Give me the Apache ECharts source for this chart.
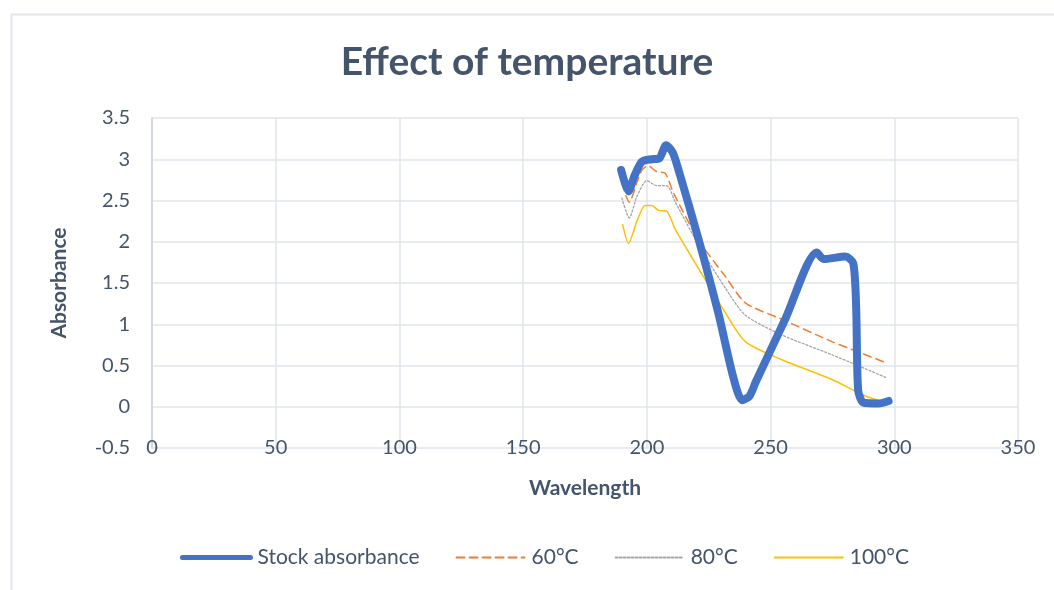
<!DOCTYPE html>
<html>
<head>
<meta charset="utf-8">
<script src="https://cdn.jsdelivr.net/npm/echarts@6/dist/echarts.min.js"></script>
<style>
html,body{margin:0;padding:0;background:#fff;}
#c{width:1054px;height:590px;}
</style>
</head>
<body>
<div id="c"></div>
<script>
var seriesNames = ['Stock absorbance', '60°C', '80°C', '100°C'];
var xTicks = [0, 50, 100, 150, 200, 250, 300, 350];
var yTicks = [-0.5, 0, 0.5, 1, 1.5, 2, 2.5, 3, 3.5];

var stock = [[189.6,2.87],[192.6,2.61],[195,2.8],[198,2.97],[202,3.0],[205,3.01],[207.8,3.17],[210.5,3.08],[213,2.85],[220.9,2.03],[229,1.12],[235,0.35],[238.5,0.08],[241.5,0.13],[244,0.3],[255.9,1.06],[268.7,1.87],[271.4,1.79],[280.2,1.82],[283.4,1.74],[284.6,1.2],[285.4,0.2],[287.5,0.05],[293.7,0.04],[297.7,0.07]];
var t60 = [[189.9,2.71],[192.9,2.48],[196,2.72],[198,2.87],[200.4,2.92],[204,2.85],[207.4,2.83],[210.8,2.59],[220.9,2.02],[231.7,1.58],[239.8,1.26],[254.6,1.06],[274.8,0.79],[297,0.53]];
var t80 = [[189.9,2.53],[192.9,2.29],[196,2.55],[200,2.74],[204,2.68],[208,2.68],[211.5,2.48],[220.9,1.96],[231.7,1.44],[239.8,1.11],[254.6,0.87],[274.8,0.63],[297,0.35]];
var t100 = [[190.2,2.21],[192.6,1.98],[196,2.25],[199.3,2.44],[202,2.44],[204.7,2.38],[208,2.37],[211.5,2.15],[223.6,1.54],[231.7,1.14],[239.8,0.79],[254.6,0.57],[274.8,0.33],[288.3,0.13],[297,0.05]];

var FONT = 'Lato';
var TXT = '#44546A';
var chart = echarts.init(document.getElementById('c'), null, {renderer: 'canvas'});
function mk(name, data, color, width, type) {
  return {
    name: name, type: 'line', data: data, showSymbol: false, symbol: 'none',
    smooth: 0.25,
    lineStyle: {color: color, width: width, type: type, cap: 'round', join: 'round'},
    itemStyle: {color: color},
    z: name === seriesNames[0] ? 5 : 3
  };
}
chart.setOption({
  backgroundColor: '#fff',
  animation: false,
  graphic: [{type: 'rect', left: 9, top: 12, shape: {width: 1100, height: 700}, style: {fill: 'none', stroke: '#e2e6eb', lineWidth: 2}, silent: true}],
  title: {text: 'Effect of temperature', left: 'center', top: 38, textStyle: {fontFamily: FONT, fontSize: 39, fontWeight: 'bold', color: TXT}},
  grid: {left: 152, right: 36, top: 118, bottom: 142},
  legend: {
    left: 180, top: 547, padding: 0, itemWidth: 68, itemHeight: 14, itemGap: 36,
    textStyle: {fontFamily: FONT, fontSize: 21, color: TXT, padding: [0,0,0,2]},
    itemStyle: {color: 'rgba(0,0,0,0)', borderWidth: 0, opacity: 0},
    data: [
      {name: seriesNames[0], lineStyle: {width: 5}},
      {name: seriesNames[1]},
      {name: seriesNames[2]},
      {name: seriesNames[3]}
    ]
  },
  xAxis: {
    type: 'value', min: xTicks[0], max: xTicks[xTicks.length-1], interval: 50,
    name: 'Wavelength', nameLocation: 'middle', nameGap: 30,
    nameTextStyle: {fontFamily: FONT, fontSize: 21, fontWeight: 'bold', color: TXT},
    axisLine: {show: false}, axisTick: {show: false},
    axisLabel: {fontFamily: FONT, fontSize: 20, color: TXT, margin: -10},
    splitLine: {show: true, lineStyle: {color: '#e1e5ea', width: 1.5}}
  },
  yAxis: {
    type: 'value', min: yTicks[0], max: yTicks[yTicks.length-1], interval: 0.5,
    name: 'Absorbance', nameLocation: 'middle', nameGap: 82,
    nameTextStyle: {fontFamily: FONT, fontSize: 21, fontWeight: 'bold', color: TXT},
    axisLine: {show: true, onZero: false, lineStyle: {color: '#cdd3db', width: 1.5}}, axisTick: {show: false},
    axisLabel: {fontFamily: FONT, fontSize: 20, color: TXT, margin: 22},
    splitLine: {show: true, lineStyle: {color: '#e1e5ea', width: 1.5}}
  },
  series: [
    mk(seriesNames[0], stock, '#4472C4', 8, 'solid'),
    mk(seriesNames[1], t60, '#ED7D31', 1.5, [8, 5]),
    mk(seriesNames[2], t80, '#A5A5A5', 1.3, [2, 2]),
    mk(seriesNames[3], t100, '#FFC000', 1.5, 'solid')
  ]
});
</script>
</body>
</html>
